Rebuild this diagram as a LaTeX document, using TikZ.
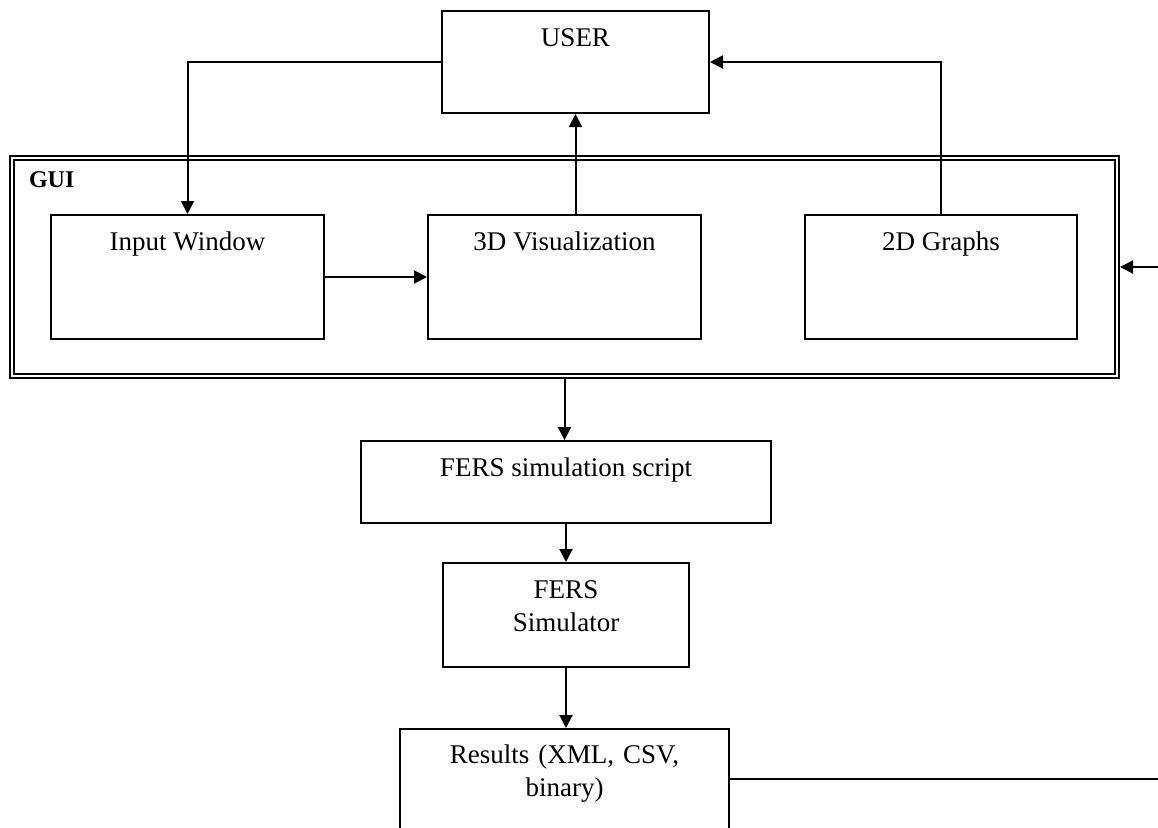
\documentclass[tikz,border=0pt]{standalone}
\usepackage{fontspec}
\setmainfont{Liberation Serif}
\usetikzlibrary{arrows.meta}
\tikzset{
  every picture/.style={line width=1pt, x=0.5pt, y=-0.5pt},
  box/.style={draw, rectangle, inner sep=0pt, fill=white},
  frame/.style={draw, rectangle, inner sep=0pt, double, double distance=1pt, line width=1pt, outer sep=1.5pt},
  txt/.style={font=\fontsize{13.5}{16.5}\selectfont, inner sep=0pt, anchor=base},
  arrow/.style={-{Triangle[length=6.5pt, width=6.5pt]}},
}

\begin{document}
\begin{tikzpicture}
  \clip (0,0) rectangle (1158,827);
  % GUI frame and its windows
  \node[frame, minimum width=552.5pt, minimum height=109pt] (gui) at (564.5,267) {};
  \node[font=\fontsize{12}{14}\selectfont\bfseries, inner sep=0pt, anchor=base west] (guilabel) at (28,187) {GUI};
  \node[box, minimum width=136.5pt, minimum height=62pt] (inwin) at (187.5,277) {};
  \node[box, minimum width=136.5pt, minimum height=62pt] (vis3d) at (564.5,277) {};
  \node[box, minimum width=136pt, minimum height=62pt] (graphs2d) at (941,277) {};
  % user and pipeline
  \node[box, minimum width=133.5pt, minimum height=51pt] (user) at (575.5,62) {};
  \node[box, minimum width=205pt, minimum height=41pt] (script) at (566,482) {};
  \node[box, minimum width=123pt, minimum height=52pt] (simulator) at (566,615) {};
  \node[box, minimum width=164.5pt, minimum height=50pt] (results) at (564.5,779) {};
  % texts
  \node[txt] (usertxt) at ([yshift=-18pt]user.north) {USER};
  \node[txt] (inwintxt) at ([yshift=-18pt]inwin.north) {Input Window};
  \node[txt] (vis3dtxt) at ([yshift=-18pt]vis3d.north) {3D Visualization};
  \node[txt] (graphs2dtxt) at ([yshift=-18pt]graphs2d.north) {2D Graphs};
  \node[txt] (scripttxt) at ([yshift=-18pt]script.north) {FERS simulation script};
  \node[txt, text width=100pt, align=center] (simulatortxt) at ([yshift=-18pt]simulator.north) {FERS\\Simulator};
  \node[txt, text width=150pt, align=center] (resultstxt) at ([yshift=-17.5pt]results.north) {Results (XML, CSV,\\binary)};
  % loose ends at the right edge
  \coordinate (toright) at (1158,779);
  \coordinate (fromright) at (1158,267);
  % connectors
  \draw[arrow] (user.west) -| (inwin.north);
  \draw[arrow] (graphs2d.north) |- (user.east);
  \draw[arrow] (user.south |- vis3d.north) -- (user.south);
  \draw[arrow] (inwin) -- (vis3d);
  \draw[arrow] (gui.south) -- (gui.south |- script.north);
  \draw[arrow] (script.south) -- (script.south |- simulator.north);
  \draw[arrow] (simulator.south) -- (simulator.south |- results.north);
  \draw (results.east) -- (toright);
  \draw[arrow] (fromright) -- (gui.east);
\end{tikzpicture}
\end{document}
